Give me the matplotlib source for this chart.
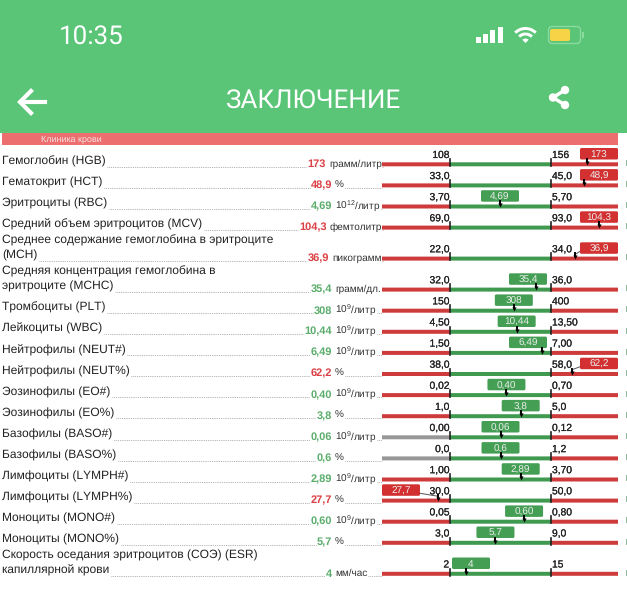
#! /usr/bin/env python

#Blood test conclusion screen: table rows with range gauges

import matplotlib
matplotlib.use('Agg')
import matplotlib.pyplot as plt
import matplotlib.patheffects as pe
from matplotlib.patches import Rectangle, FancyBboxPatch, Wedge, Circle

plt.rcParams['font.family'] = ['Liberation Sans', 'DejaVu Sans']
plt.rcParams['mathtext.fontset'] = 'custom'
plt.rcParams['mathtext.rm'] = 'Liberation Sans'
plt.rcParams['text.hinting'] = 'no_hinting'
plt.rcParams['text.hinting_factor'] = 1

names = ['Гемоглобин (HGB)', 'Гематокрит (HCT)', 'Эритроциты (RBC)',
         'Средний объем эритроцитов (MCV)',
         'Среднее содержание гемоглобина в эритроците\n(MCH)',
         'Средняя концентрация гемоглобина в\nэритроците (MCHC)',
         'Тромбоциты (PLT)', 'Лейкоциты (WBC)', 'Нейтрофилы (NEUT#)',
         'Нейтрофилы (NEUT%)', 'Эозинофилы (EO#)', 'Эозинофилы (EO%)',
         'Базофилы (BASO#)', 'Базофилы (BASO%)', 'Лимфоциты (LYMPH#)',
         'Лимфоциты (LYMPH%)', 'Моноциты (MONO#)', 'Моноциты (MONO%)',
         'Скорость оседания эритроцитов (СОЭ) (ESR)\nкапиллярной крови']
values = [173, 48.9, 4.69, 104.3, 36.9, 35.4, 308, 10.44, 6.49, 62.2, 0.40, 3.8,
          0.06, 0.6, 2.89, 27.7, 0.60, 5.7, 4]
value_labels = ['173', '48,9', '4,69', '104,3', '36,9', '35,4', '308', '10,44', '6,49',
                '62,2', '0,40', '3,8', '0,06', '0,6', '2,89', '27,7', '0,60', '5,7', '4']
G9 = r'10$^{\mathregular{9}}$/литр'
units = ['грамм/литр', '%', r'10$^{\mathregular{12}}$/литр', 'фемтолитр', 'пикограмм',
         'грамм/дл.', G9, G9, G9, '%', G9, '%', G9, '%', G9, '%', G9, '%', 'мм/час']
lows = [108, 33.0, 3.70, 69.0, 22.0, 32.0, 150, 4.50, 1.50, 38.0, 0.02, 1.0,
        0.00, 0.0, 1.00, 30.0, 0.05, 3.0, 2]
highs = [156, 45.0, 5.70, 93.0, 34.0, 36.0, 400, 13.50, 7.00, 58.0, 0.70, 5.0,
         0.12, 1.2, 3.70, 50.0, 0.80, 9.0, 15]
low_labels = ['108', '33,0', '3,70', '69,0', '22,0', '32,0', '150', '4,50', '1,50', '38,0',
              '0,02', '1,0', '0,00', '0,0', '1,00', '30,0', '0,05', '3,0', '2']
high_labels = ['156', '45,0', '5,70', '93,0', '34,0', '36,0', '400', '13,50', '7,00', '58,0',
               '0,70', '5,0', '0,12', '1,2', '3,70', '50,0', '0,80', '9,0', '15']

GREEN_HEAD = '#5AC477'
SALMON = '#EC6E6E'
RED = '#CE3B3B'
GREEN = '#3F9A50'
BOX_RED = '#D33131'
BOX_GREEN = '#449F54'
TXT_RED = '#DB4045'
TXT_GREEN = '#5BAD6C'
GRAY = '#979797'
DARK = '#222222'

fig = plt.figure(figsize=(6.27, 6.0), dpi=100)
ax = fig.add_axes([0, 0, 1, 1])
ax.set_xlim(0, 627)
ax.set_ylim(600, 0)
ax.axis('off')
rend = fig.canvas.get_renderer()
stroke = [pe.withStroke(linewidth=0.12, foreground='#222222')]

# header
ax.add_patch(Rectangle((0, 0), 627, 133, color=GREEN_HEAD, lw=0))
ax.text(59, 43.5, '10:35', color='white', fontsize=19, family='Roboto', va='baseline')
ax.text(313.5, 108, 'ЗАКЛЮЧЕНИЕ', color='white', fontsize=19, family='Roboto',
        ha='center', va='baseline')
for i, h in enumerate([6, 9, 13, 16]):
    ax.add_patch(Rectangle((476 + i * 7.2, 43 - h), 5, h, color='white', lw=0))
ax.add_patch(Wedge((525.5, 43), 4.5, 225, 315, color='white', lw=0))
ax.add_patch(Wedge((525.5, 43), 10.5, 225, 315, width=3, color='white', lw=0))
ax.add_patch(Wedge((525.5, 43), 16, 225, 315, width=3, color='white', lw=0))
ax.add_patch(FancyBboxPatch((548.5, 26.5), 32, 17, boxstyle='round,pad=0,rounding_size=4',
                            fc='none', ec='#8ADBA0', lw=1))
ax.add_patch(FancyBboxPatch((550, 29), 20, 12, boxstyle='round,pad=0,rounding_size=2',
                            fc='#F7D348', ec='none'))
ax.add_patch(Rectangle((582, 32), 1.5, 6, color='#8ADBA0', lw=0))
ax.plot([45, 21], [102, 102], color='white', lw=3)
ax.plot([31, 20, 31], [91, 102, 113], color='white', lw=3, solid_joinstyle='miter')
ax.plot([565, 553, 565], [90, 97.5, 105], color='white', lw=2.5)
for cx, cy in [(565, 90), (553, 97.5), (565, 105)]:
    ax.add_patch(Circle((cx, cy), 4.2, color='white', lw=0))

# section strip
ax.add_patch(Rectangle((2, 133), 616, 12, color=SALMON, lw=0))
ax.text(41, 139, 'Клиника крови', color='#F8E0E0', fontsize=6.7, va='center_baseline')

BAR_L, LOW_X, HIGH_X, BAR_R = 382, 450, 551, 618
BOX_W = 38

y = 164
for i, name in enumerate(names):
    lines = name.split('\n')
    if i > 0:
        y += 31 if len(lines) > 1 else 21.1
    lo, hi, v = lows[i], highs[i], values[i]
    ok = lo <= v <= hi
    # same pixel width for the normal band, the outer bands follow that scale
    mx = LOW_X + (v - lo) / (hi - lo) * (HIGH_X - LOW_X)

    # left label and leader dots
    for j, line in enumerate(lines):
        t = ax.text(2.5, y + 0.5 - 15 * (len(lines) - 1 - j), line, color=DARK, fontsize=8.75,
                    va='baseline')
    label_end = t.get_window_extent(rend).x1

    u = ax.text(0, y + 2.5, units[i], color='#333333', fontsize=7, va='baseline')
    uw = u.get_window_extent(rend).width
    val_end = min(332, BAR_L - uw - 3)
    u.set_x(val_end + 3)
    vt = ax.text(val_end, y + 3, value_labels[i], color=TXT_GREEN if ok else TXT_RED,
                 fontsize=7.7, weight='bold', ha='right', va='baseline')
    val_start = vt.get_window_extent(rend).x0
    ax.plot([label_end + 1, val_start - 1], [y + 2.5, y + 2.5], color='#999999', lw=0.6, ls=(0, (1, 1.2)))
    ax.plot([val_end + 3 + uw + 1, BAR_L], [y + 2.5, y + 2.5], color='#999999', lw=0.6, ls=(0, (1, 1.2)))

    # gauge bar
    left_col = GRAY if lo == 0 else RED
    ax.add_patch(Rectangle((BAR_L, y - 1.7), LOW_X - BAR_L, 4, color=left_col, lw=0, snap=False))
    ax.add_patch(Rectangle((LOW_X, y - 1.7), HIGH_X - LOW_X, 4, color=GREEN, lw=0, snap=False))
    ax.add_patch(Rectangle((HIGH_X, y - 1.7), BAR_R - HIGH_X, 4, color=RED, lw=0, snap=False))
    for tx in (LOW_X, HIGH_X):
        ax.plot([tx, tx], [y - 5, y + 2], color='#222222', lw=1.2)
    ax.text(LOW_X - 1, y - 6, low_labels[i], color='#222222', fontsize=7.4, ha='right',
            va='baseline', path_effects=stroke)
    ax.text(HIGH_X + 1, y - 6, high_labels[i], color='#222222', fontsize=7.4, ha='left',
            va='baseline', path_effects=stroke)

    # value box, kept inside its zone
    if v > hi:
        bx = BAR_R - BOX_W
    elif v < lo:
        bx = BAR_L
    else:
        bx = max(LOW_X + 2, min(mx - BOX_W / 2, HIGH_X - 4 - BOX_W))
    ax.add_patch(FancyBboxPatch((bx, y - 16), BOX_W, 11.5, boxstyle='round,pad=0,rounding_size=1.5',
                                fc=BOX_GREEN if ok else BOX_RED, ec='none', zorder=3))
    ax.text(bx + BOX_W / 2, y - 6.5, value_labels[i], color='#EDEDED', fontsize=7.4, ha='center',
            va='baseline', zorder=4)
    if mx < bx or mx > bx + BOX_W:
        edge = bx if mx < bx else bx + BOX_W
        ax.plot([edge, mx], [y - 7, y - 4], color='#555555', lw=0.7, zorder=2)
    ax.plot([mx, mx], [y - 5, y - 2], color='black', lw=1.4, zorder=5)
    ax.plot(mx, y - 1, marker='v', ms=3, color='black', mew=0, zorder=5)

    # clipped next column at the edge
    ax.add_patch(Rectangle((625.5, y - 4), 1.5, 6, color='#8DB89A', lw=0))

fig.savefig('out.png', dpi=100)
